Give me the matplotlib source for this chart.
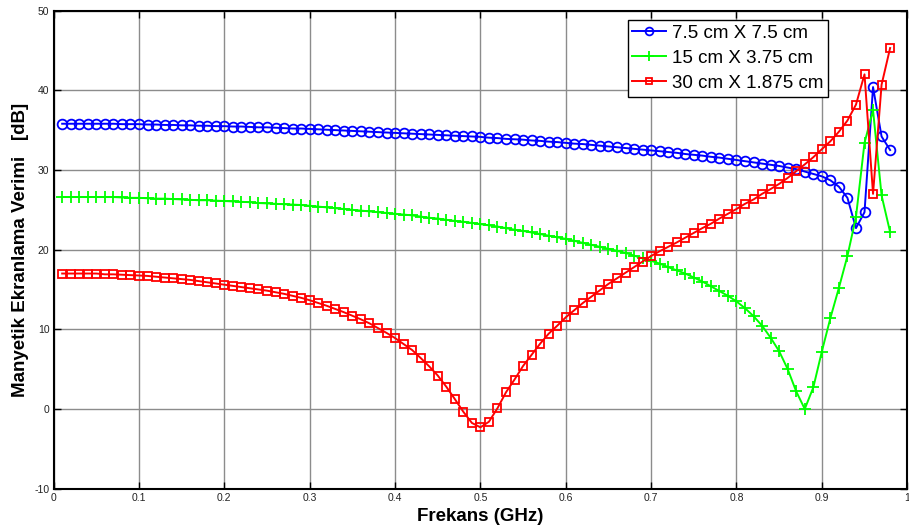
import numpy as np
import matplotlib
matplotlib.use("Agg")
import matplotlib.pyplot as plt

plt.rcParams['font.family'] = ['Liberation Sans', 'DejaVu Sans']
plt.rcParams['axes.unicode_minus'] = False

# frequency points (GHz)
freq = [round(0.01 * i, 2) for i in range(1, 99)]

se_75x75 = [35.8, 35.8, 35.8, 35.8, 35.8, 35.8, 35.8, 35.75, 35.75, 35.75,
            35.7, 35.7, 35.65, 35.65, 35.6, 35.6, 35.55, 35.55, 35.5, 35.5,
            35.45, 35.45, 35.4, 35.35, 35.35, 35.3, 35.25, 35.2, 35.2, 35.15,
            35.1, 35.05, 35.0, 34.95, 34.9, 34.85, 34.8, 34.75, 34.7, 34.65,
            34.6, 34.55, 34.5, 34.45, 34.4, 34.35, 34.3, 34.25, 34.2, 34.15,
            34.05, 34.0, 33.9, 33.85, 33.8, 33.7, 33.65, 33.55, 33.5, 33.4,
            33.3, 33.25, 33.15, 33.05, 32.95, 32.85, 32.75, 32.65, 32.55, 32.45,
            32.35, 32.25, 32.15, 32.0, 31.9, 31.8, 31.65, 31.55, 31.4, 31.25,
            31.1, 30.95, 30.8, 30.65, 30.5, 30.3, 30.1, 29.8, 29.5, 29.2,
            28.7, 27.9, 26.5, 22.7, 24.7, 40.4, 34.2, 32.5]

se_15x375 = [26.6, 26.6, 26.6, 26.6, 26.6, 26.6, 26.6, 26.55, 26.5, 26.5,
             26.45, 26.4, 26.4, 26.35, 26.3, 26.25, 26.2, 26.2, 26.15, 26.1,
             26.05, 26.0, 25.95, 25.85, 25.8, 25.75, 25.7, 25.65, 25.6, 25.5,
             25.4, 25.3, 25.2, 25.1, 25.0, 24.9, 24.8, 24.7, 24.6, 24.5,
             24.4, 24.3, 24.15, 24.0, 23.9, 23.75, 23.6, 23.5, 23.35, 23.2,
             23.05, 22.9, 22.7, 22.5, 22.35, 22.15, 21.95, 21.75, 21.55, 21.35,
             21.1, 20.85, 20.6, 20.35, 20.1, 19.85, 19.6, 19.25, 18.9, 18.6,
             18.25, 17.8, 17.4, 17.0, 16.5, 16.0, 15.4, 14.8, 14.2, 13.5,
             12.65, 11.65, 10.45, 8.95, 7.25, 5.0, 2.2, 0.0, 2.7, 7.2,
             11.4, 15.2, 19.2, 24.1, 33.4, 37.5, 26.8, 22.2]

se_30x1875 = [17.0, 17.0, 17.0, 17.0, 17.0, 16.9, 16.9, 16.85, 16.8, 16.75,
              16.7, 16.6, 16.5, 16.4, 16.3, 16.2, 16.05, 15.9, 15.75, 15.6,
              15.45, 15.3, 15.15, 15.0, 14.85, 14.65, 14.45, 14.2, 13.95, 13.65,
              13.3, 12.95, 12.55, 12.15, 11.7, 11.25, 10.75, 10.15, 9.55, 8.9,
              8.15, 7.4, 6.4, 5.35, 4.2, 2.8, 1.25, -0.35, -1.75, -2.3,
              -1.6, 0.1, 2.1, 3.7, 5.4, 6.8, 8.2, 9.45, 10.45, 11.5,
              12.4, 13.3, 14.1, 14.9, 15.7, 16.4, 17.1, 17.8, 18.5, 19.2,
              19.8, 20.35, 20.9, 21.5, 22.1, 22.7, 23.25, 23.9, 24.5, 25.1,
              25.75, 26.3, 27.0, 27.6, 28.25, 29.0, 29.85, 30.7, 31.6, 32.6,
              33.6, 34.8, 36.2, 38.2, 42.0, 27.0, 40.7, 45.3]

labels = ['7.5 cm X 7.5 cm', '15 cm X 3.75 cm', '30 cm X 1.875 cm']

fig = plt.figure(figsize=(9.09, 5.30), dpi=100)
ax = fig.add_axes([0.059, 0.078, 0.939, 0.902])

ax.plot(freq, se_75x75, color='#0000ff', marker='o', markersize=7,
        markerfacecolor='none', markeredgewidth=1.3, linewidth=1.4, label=labels[0])
ax.plot(freq, se_15x375, color='#00ff00', marker='+', markersize=9,
        markeredgewidth=1.3, linewidth=1.4, label=labels[1])
ax.plot(freq, se_30x1875, color='#ff0000', marker='s', markersize=6,
        markerfacecolor='none', markeredgewidth=1.3, linewidth=1.4, label=labels[2])

ax.set_xlim(0, 1)
ax.set_ylim(-10, 50)
ax.set_xticks(np.arange(0, 1.01, 0.1))
ax.set_xticklabels(['0', '0.1', '0.2', '0.3', '0.4', '0.5', '0.6', '0.7', '0.8', '0.9', '1'])
ax.set_yticks(range(-10, 51, 10))
ax.grid(True, color='#8c8c8c', linewidth=1.0)
ax.tick_params(direction='in', length=5, width=1, labelsize=7.5, labelcolor='#222222',
               top=True, right=True, pad=3)
for s in ax.spines.values():
    s.set_linewidth(1.5)

ax.set_xlabel('Frekans (GHz)', fontsize=13.5, fontweight='bold', labelpad=4)
ax.set_ylabel('Manyetik Ekranlama Verimi   [dB]', fontsize=13.5, fontweight='bold', labelpad=4)

leg = ax.legend(loc='upper right', bbox_to_anchor=(0.907, 0.98), fontsize=13.5,
                fancybox=False, edgecolor='black', framealpha=1, markerscale=0.8,
                handlelength=1.8, borderpad=0.25, labelspacing=0.42, handletextpad=0.3,
                borderaxespad=0)
leg.get_frame().set_linewidth(1.0)

fig.savefig('out.png', dpi=100)
